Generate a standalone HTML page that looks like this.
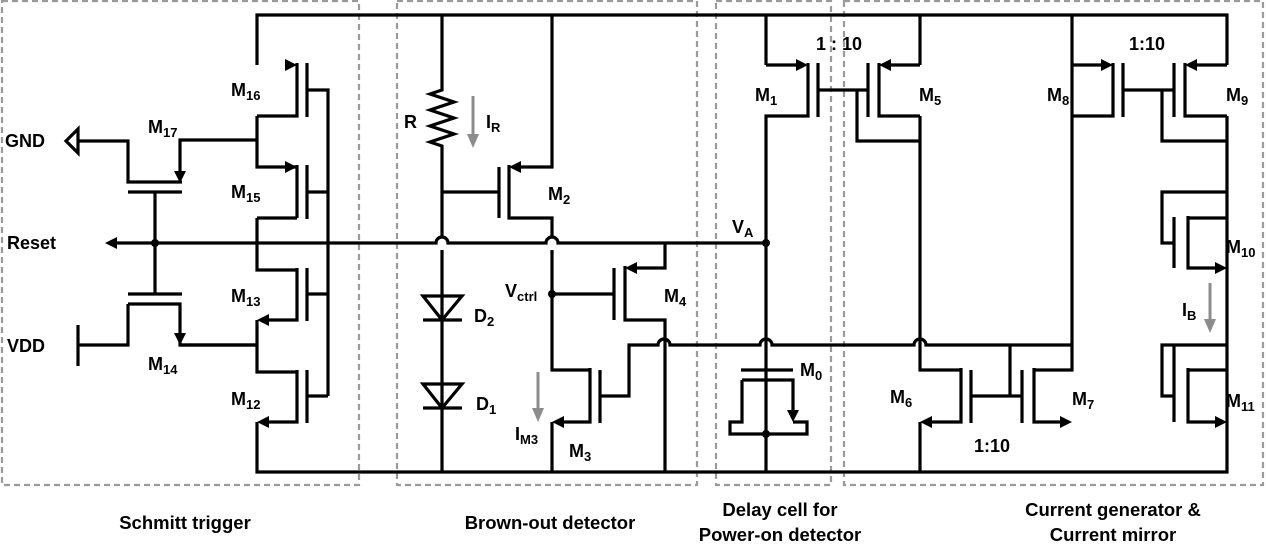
<!DOCTYPE html>
<html><head><meta charset="utf-8"><style>
html,body{margin:0;padding:0;background:#fff;}
svg{display:block;}
text{font-family:"Liberation Sans",sans-serif;font-weight:bold;font-size:18px;fill:#000;}
.s{font-size:13px;}
.b{font-size:18.5px;}
</style></head><body>
<svg width="1266" height="544" viewBox="0 0 1266 544" xmlns="http://www.w3.org/2000/svg">
<g fill="none" stroke="#9a9a9a" stroke-width="2.2" stroke-dasharray="6 4">
<rect x="2" y="1" width="357" height="484"/>
<rect x="397" y="1" width="300" height="484"/>
<rect x="716" y="1" width="115" height="484"/>
<rect x="844" y="1" width="419" height="484"/>
</g>
<g fill="none" stroke="#000" stroke-width="3.2" stroke-linejoin="miter">
<path d="M257 65 V15 H1227 V65"/>
<path d="M257 422 V472 H1227 V422"/>
<path d="M257 116 H297 V63 M307 63 V117 M307 90 H328 V396"/>
<path d="M257 116 V167 H297 M297 165 V218 M307 165 V219 M307 192 H328"/>
<path d="M257 218 H297 M257 218 V270 H297 M297 268 V320 H262 M307 268 V321 M307 294 H328"/>
<path d="M257 320 V372 H297 M297 370 V422 H262 M307 370 V423 M307 396 H328"/>
<path d="M257 140 H180 V178 M257 345 H180 V340"/>
<path d="M110 243 H436 a6 6 0 0 1 12 0 H546 a6 6 0 0 1 12 0 H766"/>
<path d="M78 141 H128 V182 H182 M128 192 H182 M155 192 V294 M128 294 H182 M128 304 H180 V338 M128 304 V345 H78 M78 325 V366"/>
<path d="M180 345 H257"/>
<path d="M442 15 V90 l-12 4 l24 8 l-24 8 l24 8 l-24 8 l24 8 l-24 8 l12 4 V236 M442 250 V472"/>
<path d="M442 192 H499 M499 167 V218"/>
<path d="M552 15 V167 H514 M509 165 V218 H552 V236 M552 250 V370 H590 M590 368 V422 H557 M552 422 V472"/>
<path d="M600 370 V423 M600 396 H629 V345 H658 a6 6 0 0 1 12 0 H760 a6 6 0 0 1 12 0 H914 a6 6 0 0 1 12 0 H1072"/>
<path d="M552 294 H614 M614 268 V320 M665 243 V268 H630 M625 266 V320 H665 V472"/>
<path d="M423 296 H462 L442 320 Z M423 320 H462 M423 384 H462 L442 408 Z M423 408 H462"/>
<path d="M766 65 V15 M766 65 H803 M808 63 V116 H766 V472 M818 63 V117 M818 90 H868 M868 63 V117 M857 90 V141 H920 M879 63 V116 H920 M920 65 H884 M920 15 V65"/>
<path d="M741 370 H793 M742 380 H793 V415 M742 380 V422 H730 V434 H807 V422 H793"/>
<path d="M920 116 V370 H961 M961 368 V422 H925 M920 422 V472 M971 370 V423 M971 396 H1022 M1010 396 V345 M1022 370 V423 M1034 368 V422 H1067 M1034 370 H1072 V65 M1072 15 V65 H1108"/>
<path d="M1113 63 V116 H1072 M1123 63 V117 M1123 90 H1174 M1174 63 V117 M1162 90 V141 H1227 M1185 63 V116 H1227 M1227 65 H1190 M1227 116 V422"/>
<path d="M1227 192 H1162 V243 H1174 M1174 217 V268 M1188 218 H1227 M1188 216 V268 H1222"/>
<path d="M1227 345 H1162 V396 H1174 M1174 345 V422 M1188 370 H1227 M1188 368 V422 H1222"/>
<polygon points="66,141 78,129 78,153"/>
</g>
<g fill="#000">
<polygon points="297,65 285,59 285,71"/>
<polygon points="297,167 285,161 285,173"/>
<polygon points="257,320 269,314 269,326"/>
<polygon points="257,422 269,416 269,428"/>
<polygon points="180,183 174,171 186,171"/>
<polygon points="180,345 174,333 186,333"/>
<polygon points="105,243 117,237 117,249"/>
<polygon points="509,167 521,161 521,173"/>
<polygon points="552,422 564,416 564,428"/>
<polygon points="625,268 637,262 637,274"/>
<polygon points="808,65 796,59 796,71"/>
<polygon points="879,65 891,59 891,71"/>
<polygon points="793,422 787,410 799,410"/>
<polygon points="920,422 932,416 932,428"/>
<polygon points="1072,422 1060,416 1060,428"/>
<polygon points="1113,65 1101,59 1101,71"/>
<polygon points="1185,65 1197,59 1197,71"/>
<polygon points="1227,268 1215,262 1215,274"/>
<polygon points="1227,422 1215,416 1215,428"/>
<circle cx="155" cy="243" r="4"/>
<circle cx="552" cy="294" r="4"/>
<circle cx="766" cy="243" r="4"/>
<circle cx="766" cy="434" r="4"/>
</g>
<g stroke="#8c8c8c" stroke-width="3" fill="#8c8c8c">
<path d="M473 96 V136"/><polygon points="473,148 467,134 479,134" stroke="none"/>
<path d="M538 372 V410"/><polygon points="538,422 532,408 544,408" stroke="none"/>
<path d="M1210 283 V321"/><polygon points="1210,333 1204,319 1216,319" stroke="none"/>
</g>
<g>
<text x="5" y="147">GND</text>
<text x="7" y="249">Reset</text>
<text x="7" y="352">VDD</text>
<text x="231" y="96">M<tspan class="s" dy="4">16</tspan></text>
<text x="148" y="133">M<tspan class="s" dy="4">17</tspan></text>
<text x="231" y="198">M<tspan class="s" dy="4">15</tspan></text>
<text x="231" y="302">M<tspan class="s" dy="4">13</tspan></text>
<text x="148" y="370">M<tspan class="s" dy="4">14</tspan></text>
<text x="231" y="405">M<tspan class="s" dy="4">12</tspan></text>
<text x="404" y="128">R</text>
<text x="486" y="128">I<tspan class="s" dy="4">R</tspan></text>
<text x="548" y="200">M<tspan class="s" dy="4">2</tspan></text>
<text x="505" y="297">V<tspan class="s" dy="4">ctrl</tspan></text>
<text x="664" y="302">M<tspan class="s" dy="4">4</tspan></text>
<text x="474" y="322">D<tspan class="s" dy="4">2</tspan></text>
<text x="476" y="410">D<tspan class="s" dy="4">1</tspan></text>
<text x="515" y="440">I<tspan class="s" dy="4">M3</tspan></text>
<text x="569" y="457">M<tspan class="s" dy="4">3</tspan></text>
<text x="732" y="233">V<tspan class="s" dy="4">A</tspan></text>
<text x="755" y="101">M<tspan class="s" dy="4">1</tspan></text>
<text x="816" y="50">1 : 10</text>
<text x="919" y="101">M<tspan class="s" dy="4">5</tspan></text>
<text x="800" y="376">M<tspan class="s" dy="4">0</tspan></text>
<text x="890" y="403">M<tspan class="s" dy="4">6</tspan></text>
<text x="1072" y="405">M<tspan class="s" dy="4">7</tspan></text>
<text x="974" y="452">1:10</text>
<text x="1047" y="101">M<tspan class="s" dy="4">8</tspan></text>
<text x="1129" y="50">1:10</text>
<text x="1226" y="101">M<tspan class="s" dy="4">9</tspan></text>
<text x="1226" y="253">M<tspan class="s" dy="4">10</tspan></text>
<text x="1182" y="316">I<tspan class="s" dy="4">B</tspan></text>
<text x="1226" y="407">M<tspan class="s" dy="4">11</tspan></text>
<text class="b" x="185" y="529" text-anchor="middle">Schmitt trigger</text>
<text class="b" x="550" y="529" text-anchor="middle">Brown-out detector</text>
<text class="b" x="780" y="516" text-anchor="middle">Delay cell for</text>
<text class="b" x="780" y="541" text-anchor="middle">Power-on detector</text>
<text class="b" x="1113" y="516" text-anchor="middle">Current generator &amp;</text>
<text class="b" x="1113" y="541" text-anchor="middle">Current mirror</text>
</g>
</svg>
</body></html>
